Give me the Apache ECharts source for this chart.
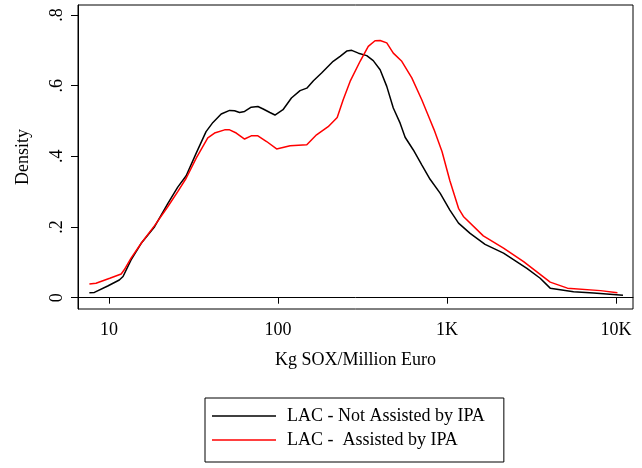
<!DOCTYPE html>
<html>
<head>
<meta charset="utf-8">
<script src="https://cdn.jsdelivr.net/npm/echarts@6/dist/echarts.min.js"></script>
<style>
  html, body { margin: 0; padding: 0; background: #fff; }
  #chart { width: 642px; height: 468px; }
</style>
</head>
<body>
<div id="chart"></div>
<script>
// kernel density, x on log scale (Kg SOX / Million Euro)
const notAssistedX = [7.65, 8.19, 9.82, 11.5, 12.1, 13.5, 15.5, 18.6, 22.3, 25.5, 28.6, 32.8, 37.5, 41.2, 46.1,
  51.7, 55.3, 59.2, 63.4, 69.4, 76.0, 81.7, 89.5, 95.9, 107, 120, 135, 148, 162, 181, 212, 233, 255, 273, 299,
  335, 366, 402, 440, 481, 528, 565, 632, 709, 794, 910, 1040, 1170, 1370, 1680, 2160, 2970, 3560, 4080, 5610, 7370, 11000];
const notAssistedY = [.014, .015, .033, .050, .060, .107, .154, .201, .267, .313, .345, .409, .470, .496, .520,
  .530, .529, .524, .527, .539, .541, .534, .524, .517, .532, .565, .586, .593, .614, .636, .669, .683, .698, .700, .692,
  .685, .671, .645, .598, .537, .494, .454, .418, .376, .335, .296, .248, .211, .182, .151, .126, .083, .055, .027, .017, .013, .007];

const assistedX = [7.65, 8.37, 10.1, 11.8, 12.3, 13.5, 15.5, 18.6, 22.3, 25.5, 28.6, 32.8, 38.4, 42.1, 48.3,
  51.7, 56.6, 63.4, 69.4, 76.0, 85.6, 98.1, 118, 148, 169, 198, 224, 243, 267, 306, 342, 375, 402, 440, 481,
  540, 619, 709, 794, 839, 935, 1040, 1170, 1250, 1640, 2160, 2840, 4080, 5160, 8100, 10200];
const assistedY = [.039, .041, .055, .067, .079, .112, .154, .204, .258, .300, .338, .395, .452, .466, .475,
  .475, .466, .449, .458, .458, .442, .421, .430, .433, .461, .484, .510, .560, .612, .669, .711, .727, .728, .721, .692,
  .669, .622, .560, .503, .475, .413, .331, .253, .230, .175, .140, .102, .044, .027, .020, .014];

const yTicks = [0, 0.2, 0.4, 0.6, 0.8];
const xTickLabels = { 10: '10', 100: '100', 1000: '1K', 10000: '10K' };
const seriesNames = ['LAC - Not Assisted by IPA', 'LAC -  Assisted by IPA'];

const zip = (xs, ys) => xs.map((x, i) => [x, ys[i]]);
const font = 'Liberation Serif';

const chart = echarts.init(document.getElementById('chart'), null, { renderer: 'canvas' });

chart.setOption({
  animation: false,
  backgroundColor: '#fff',
  grid: { left: 78, top: 5, width: 555, height: 304, show: true, borderColor: '#000', borderWidth: 1 },
  xAxis: {
    type: 'log', logBase: 10, min: 6.55, max: 12610,
    name: 'Kg SOX/Million Euro', nameLocation: 'middle', nameGap: 42,
    nameTextStyle: { color: '#000', fontFamily: font, fontSize: 18 },
    axisLine: { lineStyle: { color: '#000', width: 1 } },
    axisTick: { length: 6, lineStyle: { color: '#000' } },
    axisLabel: {
      color: '#000', fontFamily: font, fontSize: 18, margin: 12,
      showMinLabel: false, showMaxLabel: false,
      formatter: v => xTickLabels[Math.round(v)] || ''
    },
    splitLine: { show: false }
  },
  yAxis: {
    type: 'value', min: -0.032, max: 0.8283,
    name: 'Density', nameLocation: 'middle', nameGap: 46, nameRotate: 90,
    nameTextStyle: { color: '#000', fontFamily: font, fontSize: 18 },
    axisLine: { show: true, lineStyle: { color: '#000', width: 1 } },
    axisTick: { show: true, length: 7, customValues: yTicks, lineStyle: { color: '#000' } },
    axisLabel: {
      color: '#000', fontFamily: font, fontSize: 18, rotate: 90, margin: 12,
      customValues: yTicks,
      formatter: v => v === 0 ? '0' : String(v).replace(/^0/, '')
    },
    splitLine: { show: false }
  },
  legend: {
    orient: 'vertical', left: 205, top: 398,
    padding: [8, 19, 12, 7], itemGap: 4,
    icon: 'rect', itemWidth: 64, itemHeight: 1.5,
    borderColor: '#000', borderWidth: 1, backgroundColor: '#fff',
    textStyle: { color: '#000', fontFamily: font, fontSize: 18, lineHeight: 20, padding: [0, 0, 0, 6] },
    data: seriesNames
  },
  series: [
    {
      name: seriesNames[0], type: 'line', data: zip(notAssistedX, notAssistedY),
      symbol: 'none', smooth: false, lineStyle: { color: '#000', width: 1.5 }, itemStyle: { color: '#000' }
    },
    {
      name: seriesNames[1], type: 'line', data: zip(assistedX, assistedY),
      symbol: 'none', smooth: false, lineStyle: { color: '#ff0000', width: 1.5 }, itemStyle: { color: '#ff0000' }
    }
  ]
});
</script>
</body>
</html>
